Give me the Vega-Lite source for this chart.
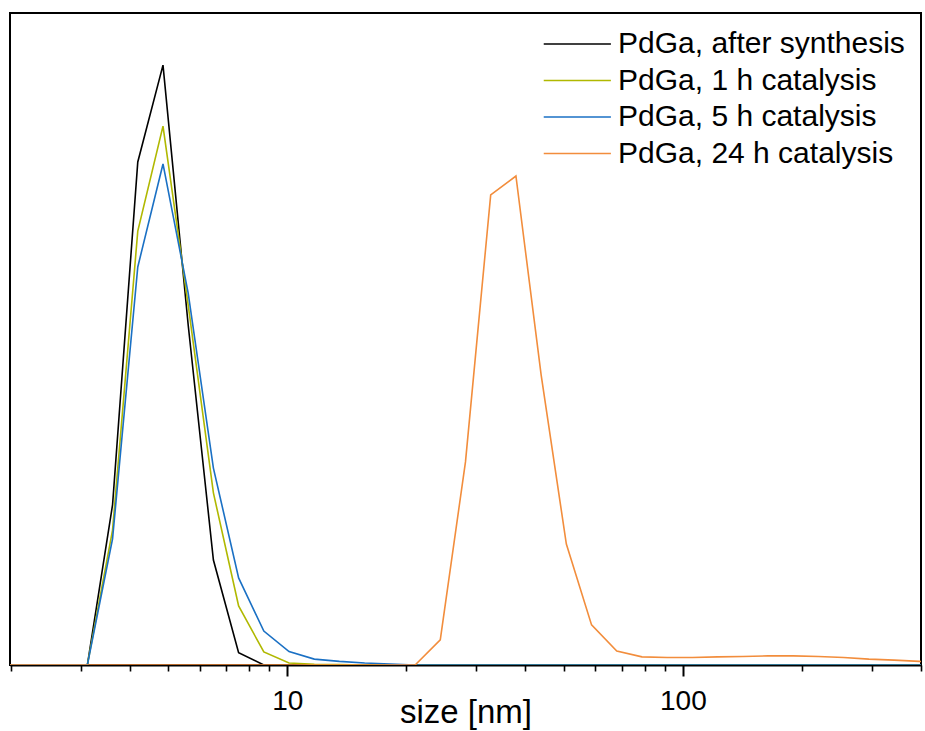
{
  "$schema": "https://vega.github.io/schema/vega-lite/v6.json",
  "autosize": "none",
  "width": 911,
  "height": 652,
  "padding": {"left": 10, "top": 13, "right": 4, "bottom": 66},
  "background": "white",
  "config": {
    "font": "Liberation Sans",
    "view": {"stroke": "black", "strokeWidth": 2}
  },
  "data": {
    "values": [
      {"size": 1.736, "v": 0, "s": "PdGa, after synthesis"},
      {"size": 3.122, "v": 0, "s": "PdGa, after synthesis"},
      {"size": 3.615, "v": 4.91, "s": "PdGa, after synthesis"},
      {"size": 4.187, "v": 15.43, "s": "PdGa, after synthesis"},
      {"size": 4.849, "v": 18.40, "s": "PdGa, after synthesis"},
      {"size": 5.615, "v": 10.43, "s": "PdGa, after synthesis"},
      {"size": 6.503, "v": 3.22, "s": "PdGa, after synthesis"},
      {"size": 7.531, "v": 0.38, "s": "PdGa, after synthesis"},
      {"size": 8.721, "v": 0, "s": "PdGa, after synthesis"},
      {"size": 458.7, "v": 0, "s": "PdGa, after synthesis"},

      {"size": 1.736, "v": 0, "s": "PdGa, 1 h catalysis"},
      {"size": 3.122, "v": 0, "s": "PdGa, 1 h catalysis"},
      {"size": 3.615, "v": 4.14, "s": "PdGa, 1 h catalysis"},
      {"size": 4.187, "v": 13.31, "s": "PdGa, 1 h catalysis"},
      {"size": 4.849, "v": 16.53, "s": "PdGa, 1 h catalysis"},
      {"size": 5.615, "v": 11.04, "s": "PdGa, 1 h catalysis"},
      {"size": 6.503, "v": 5.28, "s": "PdGa, 1 h catalysis"},
      {"size": 7.531, "v": 1.81, "s": "PdGa, 1 h catalysis"},
      {"size": 8.721, "v": 0.40, "s": "PdGa, 1 h catalysis"},
      {"size": 10.10, "v": 0.06, "s": "PdGa, 1 h catalysis"},
      {"size": 11.70, "v": 0.02, "s": "PdGa, 1 h catalysis"},
      {"size": 13.54, "v": 0.01, "s": "PdGa, 1 h catalysis"},
      {"size": 15.69, "v": 0, "s": "PdGa, 1 h catalysis"},
      {"size": 458.7, "v": 0, "s": "PdGa, 1 h catalysis"},

      {"size": 1.736, "v": 0, "s": "PdGa, 5 h catalysis"},
      {"size": 3.122, "v": 0, "s": "PdGa, 5 h catalysis"},
      {"size": 3.615, "v": 3.87, "s": "PdGa, 5 h catalysis"},
      {"size": 4.187, "v": 12.21, "s": "PdGa, 5 h catalysis"},
      {"size": 4.849, "v": 15.37, "s": "PdGa, 5 h catalysis"},
      {"size": 5.615, "v": 11.41, "s": "PdGa, 5 h catalysis"},
      {"size": 6.503, "v": 6.04, "s": "PdGa, 5 h catalysis"},
      {"size": 7.531, "v": 2.67, "s": "PdGa, 5 h catalysis"},
      {"size": 8.721, "v": 1.04, "s": "PdGa, 5 h catalysis"},
      {"size": 10.10, "v": 0.41, "s": "PdGa, 5 h catalysis"},
      {"size": 11.70, "v": 0.18, "s": "PdGa, 5 h catalysis"},
      {"size": 13.54, "v": 0.11, "s": "PdGa, 5 h catalysis"},
      {"size": 15.69, "v": 0.06, "s": "PdGa, 5 h catalysis"},
      {"size": 18.17, "v": 0.03, "s": "PdGa, 5 h catalysis"},
      {"size": 21.04, "v": 0, "s": "PdGa, 5 h catalysis"},
      {"size": 458.7, "v": 0, "s": "PdGa, 5 h catalysis"},

      {"size": 1.736, "v": 0, "s": "PdGa, 24 h catalysis"},
      {"size": 21.04, "v": 0, "s": "PdGa, 24 h catalysis"},
      {"size": 24.36, "v": 0.77, "s": "PdGa, 24 h catalysis"},
      {"size": 28.21, "v": 6.23, "s": "PdGa, 24 h catalysis"},
      {"size": 32.67, "v": 14.42, "s": "PdGa, 24 h catalysis"},
      {"size": 37.84, "v": 15.0, "s": "PdGa, 24 h catalysis"},
      {"size": 43.82, "v": 8.90, "s": "PdGa, 24 h catalysis"},
      {"size": 50.75, "v": 3.71, "s": "PdGa, 24 h catalysis"},
      {"size": 58.77, "v": 1.23, "s": "PdGa, 24 h catalysis"},
      {"size": 68.06, "v": 0.43, "s": "PdGa, 24 h catalysis"},
      {"size": 78.82, "v": 0.25, "s": "PdGa, 24 h catalysis"},
      {"size": 91.28, "v": 0.23, "s": "PdGa, 24 h catalysis"},
      {"size": 105.7, "v": 0.23, "s": "PdGa, 24 h catalysis"},
      {"size": 122.4, "v": 0.25, "s": "PdGa, 24 h catalysis"},
      {"size": 141.8, "v": 0.26, "s": "PdGa, 24 h catalysis"},
      {"size": 164.2, "v": 0.28, "s": "PdGa, 24 h catalysis"},
      {"size": 190.1, "v": 0.28, "s": "PdGa, 24 h catalysis"},
      {"size": 220.2, "v": 0.26, "s": "PdGa, 24 h catalysis"},
      {"size": 255.0, "v": 0.23, "s": "PdGa, 24 h catalysis"},
      {"size": 295.3, "v": 0.18, "s": "PdGa, 24 h catalysis"},
      {"size": 342.0, "v": 0.15, "s": "PdGa, 24 h catalysis"},
      {"size": 396.1, "v": 0.11, "s": "PdGa, 24 h catalysis"},
      {"size": 458.7, "v": 0.06, "s": "PdGa, 24 h catalysis"}
    ]
  },
  "mark": {"type": "line", "strokeWidth": 1.6, "clip": true},
  "encoding": {
    "x": {
      "field": "size",
      "type": "quantitative",
      "scale": {"type": "log", "domain": [1.99, 400], "nice": false},
      "axis": {
        "title": "size [nm]",
        "titleFont": "Liberation Sans",
        "titleFontSize": 33,
        "titleFontWeight": "normal",
        "titleColor": "black",
        "titleBaseline": "alphabetic",
        "titleY": 57,
        "values": [2, 3, 4, 5, 6, 7, 8, 9, 10, 20, 30, 40, 50, 60, 70, 80, 90, 100, 200, 300, 400],
        "labelExpr": "datum.value == 10 || datum.value == 100 ? format(datum.value, 'd') : ''",
        "labelOverlap": false,
        "labelFont": "Liberation Sans",
        "labelFontSize": 28,
        "labelColor": "black",
        "labelBaseline": "alphabetic",
        "labelPadding": 33,
        "labelFlush": false,
        "domainColor": "black",
        "domainWidth": 2,
        "tickColor": "black",
        "tickSize": {"condition": {"test": "datum.value == 10 || datum.value == 100", "value": 11}, "value": 6},
        "tickWidth": {"condition": {"test": "datum.value == 10 || datum.value == 100", "value": 2}, "value": 1.6},
        "grid": false
      }
    },
    "y": {
      "field": "v",
      "type": "quantitative",
      "scale": {"domain": [0, 20], "nice": false, "zero": true},
      "axis": null
    },
    "color": {
      "field": "s",
      "type": "nominal",
      "sort": null,
      "scale": {
        "domain": ["PdGa, after synthesis", "PdGa, 1 h catalysis", "PdGa, 5 h catalysis", "PdGa, 24 h catalysis"],
        "range": ["#000000", "#b0b800", "#1a70c4", "#f28d3c"]
      },
      "legend": {
        "title": null,
        "orient": "top-right",
        "offset": 16,
        "padding": 0,
        "symbolType": "M-2.87,0H4.2",
        "symbolSize": 361,
        "symbolStrokeWidth": 1.6,
        "labelOffset": 32,
        "labelFont": "Liberation Sans",
        "labelFontSize": 30,
        "labelColor": "black",
        "labelLimit": 400,
        "rowPadding": 6.5
      }
    },
    "order": {"field": "size", "type": "quantitative"}
  }
}
